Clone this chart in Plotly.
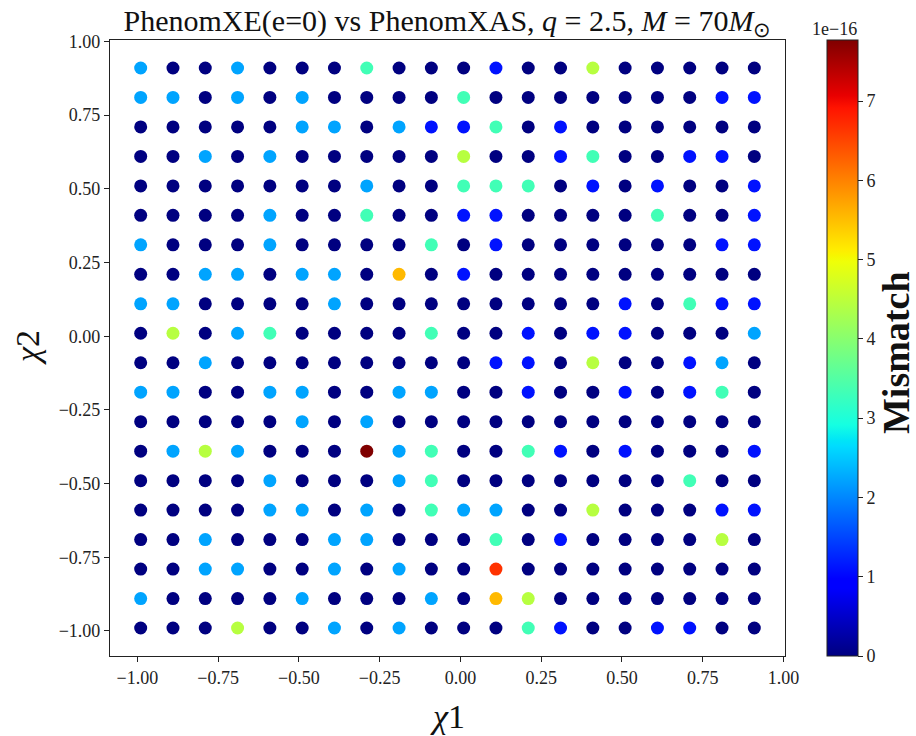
import numpy as np
import plotly.graph_objects as go

# ---- data ----
chi1_values = [-0.99, -0.89, -0.79, -0.69, -0.59, -0.49, -0.39, -0.29, -0.19, -0.09,
               0.01, 0.11, 0.21, 0.31, 0.41, 0.51, 0.61, 0.71, 0.81, 0.91]
chi2_values = [0.91, 0.81, 0.71, 0.61, 0.51, 0.41, 0.31, 0.21, 0.11, 0.01,
               -0.09, -0.19, -0.29, -0.39, -0.49, -0.59, -0.69, -0.79, -0.89, -0.99]

# mismatch in units of 1e-16; rows follow chi2_values (top to bottom), columns follow chi1_values
mismatch_e16 = [
    [2.22, 0, 0, 2.22, 0, 0, 0, 3.33, 0, 0, 0, 1.11, 0, 0, 4.44, 0, 0, 0, 0, 0],
    [2.22, 2.22, 0, 2.22, 0, 2.22, 0, 0, 0, 0, 3.33, 0, 0, 0, 0, 0, 0, 0, 1.11, 1.11],
    [0, 0, 0, 0, 0, 2.22, 2.22, 0, 2.22, 1.11, 1.11, 3.33, 0, 1.11, 0, 0, 0, 0, 0, 0],
    [0, 0, 2.22, 0, 2.22, 0, 0, 0, 0, 0, 4.44, 0, 0, 1.11, 3.33, 0, 0, 1.11, 1.11, 0],
    [0, 0, 0, 0, 0, 0, 0, 2.22, 0, 0, 3.33, 3.33, 3.33, 0, 1.11, 0, 1.11, 0, 0, 1.11],
    [0, 0, 0, 0, 2.22, 0, 0, 3.33, 0, 0, 1.11, 1.11, 0, 0, 0, 0, 3.33, 0, 0, 1.11],
    [2.22, 0, 0, 0, 2.22, 0, 0, 0, 0, 3.33, 0, 1.11, 0, 0, 0, 0, 0, 0, 1.11, 1.11],
    [0, 0, 2.22, 2.22, 0, 2.22, 2.22, 0, 5.55, 0, 1.11, 0, 0, 0, 0, 0, 0, 0, 0, 0],
    [2.22, 2.22, 0, 0, 0, 0, 2.22, 0, 0, 0, 0, 0, 0, 0, 0, 1.11, 0, 3.33, 1.11, 1.11],
    [0, 4.44, 0, 2.22, 3.33, 0, 0, 0, 0, 3.33, 0, 0, 1.11, 0, 1.11, 1.11, 0, 0, 0, 2.22],
    [0, 0, 2.22, 0, 0, 0, 0, 0, 0, 0, 0, 1.11, 1.11, 0, 4.44, 0, 0, 1.11, 2.22, 0],
    [2.22, 2.22, 0, 0, 2.22, 2.22, 0, 0, 2.22, 2.22, 0, 0, 1.11, 0, 0, 1.11, 0, 1.11, 3.33, 0],
    [0, 0, 0, 0, 0, 2.22, 0, 2.22, 0, 0, 0, 0, 0, 0, 0, 0, 0, 0, 0, 0],
    [0, 2.22, 4.44, 2.22, 0, 0, 0, 7.77, 2.22, 3.33, 0, 0, 3.33, 1.11, 0, 1.11, 0, 0, 0, 1.11],
    [0, 0, 0, 0, 2.22, 0, 0, 0, 2.22, 3.33, 0, 0, 0, 0, 0, 0, 0, 3.33, 0, 0],
    [0, 0, 0, 0, 2.22, 2.22, 0, 2.22, 0, 3.33, 2.22, 2.22, 0, 0, 4.44, 0, 0, 0, 1.11, 1.11],
    [0, 0, 2.22, 0, 0, 0, 2.22, 2.22, 0, 0, 0, 3.33, 0, 1.11, 0, 0, 0, 0, 4.44, 0],
    [0, 0, 2.22, 2.22, 0, 0, 2.22, 0, 2.22, 0, 0, 6.66, 0, 0, 0, 0, 0, 0, 0, 0],
    [2.22, 0, 0, 0, 0, 2.22, 0, 0, 0, 2.22, 0, 5.55, 4.44, 0, 0, 0, 0, 0, 0, 0],
    [0, 0, 0, 4.44, 0, 0, 2.22, 0, 2.22, 0, 0, 0, 3.33, 1.11, 0, 0, 1.11, 1.11, 0, 0],
]

axis_ticks = [-1.0, -0.75, -0.5, -0.25, 0.0, 0.25, 0.5, 0.75, 1.0]
cbar_ticks = [0, 1, 2, 3, 4, 5, 6, 7]
cbar_ticktext = ["0", "1", "2", "3", "4", "5", "6", "7"]

# ---- build points ----
xs, ys, cs = [], [], []
for r, c2 in enumerate(chi2_values):
    for c, c1 in enumerate(chi1_values):
        xs.append(c1)
        ys.append(c2)
        cs.append(mismatch_e16[r][c] * 1e-16)

# matplotlib 'jet' colormap as a plotly colorscale
bp = [0, 0.11, 0.125, 0.34, 0.35, 0.375, 0.64, 0.65, 0.66, 0.89, 0.91, 1.0]
rr = np.interp(bp, [0, 0.35, 0.66, 0.89, 1], [0, 0, 1, 1, 0.5])
gg = np.interp(bp, [0, 0.125, 0.375, 0.64, 0.91, 1], [0, 0, 1, 1, 0, 0])
bb = np.interp(bp, [0, 0.11, 0.34, 0.65, 1], [0.5, 1, 1, 0, 0])
jet = [[p, f"rgb({int(round(r*255))},{int(round(g*255))},{int(round(b*255))})"]
       for p, r, g, b in zip(bp, rr, gg, bb)]

FONT = "Liberation Serif"
W, H = 916, 736
L, R, T, B = 110, 131, 40, 80
PW, PH = W - L - R, H - T - B

def px(xp):
    return (xp - L) / PW

def py(yp):
    return (H - B - yp) / PH

vmax = max(cs)

fig = go.Figure(go.Scatter(
    x=xs, y=ys, mode="markers",
    marker=dict(
        size=13, color=cs, colorscale=jet, cmin=0, cmax=vmax,
        line=dict(width=0),
        colorbar=dict(
            x=px(826.7), xanchor="left", y=0.5, yanchor="middle",
            len=1, lenmode="fraction", thickness=31, xpad=0, ypad=0,
            outlinewidth=1, outlinecolor="#222",
            tickvals=[t * 1e-16 for t in cbar_ticks], ticktext=cbar_ticktext,
            ticks="outside", ticklen=5, tickcolor="#222",
            tickfont=dict(family=FONT, size=18, color="#222"),
        ),
    ),
    showlegend=False,
))

axis_common = dict(
    tickvals=axis_ticks, tickformat=".2f", ticks="outside", ticklen=5,
    tickcolor="#222", showline=True, linecolor="#222", linewidth=1.2, mirror=True,
    showgrid=False, zeroline=False,
    tickfont=dict(family=FONT, size=18, color="#222"),
)

ann_common = dict(xref="paper", yref="paper", showarrow=False,
                  xanchor="center", yanchor="middle")

fig.update_layout(
    width=W, height=H,
    margin=dict(l=L, r=R, t=T, b=B),
    plot_bgcolor="white", paper_bgcolor="white",
    xaxis=dict(range=[-1.085, 1.005], **axis_common),
    yaxis=dict(range=[-1.085, 1.005], **axis_common),
    title=dict(
        text="PhenomXE(e=0) vs PhenomXAS, <i>q</i> = 2.5, <i>M</i> = 70<i>M</i><sub>⊙</sub>",
        x=0.5, xref="paper", xanchor="center",
        y=1 - 20 / H, yref="container", yanchor="middle",
        font=dict(family=FONT, size=30, color="#111"),
    ),
    annotations=[
        dict(text="<i>χ</i>1", x=0.5, y=py(716),
             font=dict(family=FONT, size=34, color="#111"), **ann_common),
        dict(text="<i>χ</i>2", x=px(27), y=py(348), textangle=-90,
             font=dict(family=FONT, size=34, color="#111"), **ann_common),
        dict(text="<b>Mismatch</b>", x=px(896), y=py(353), textangle=-90,
             font=dict(family=FONT, size=38, color="#111"), **ann_common),
        dict(text="1e−16", x=px(834), y=py(29),
             font=dict(family=FONT, size=18, color="#222"), **ann_common),
    ],
)

fig.write_html("out.html")
